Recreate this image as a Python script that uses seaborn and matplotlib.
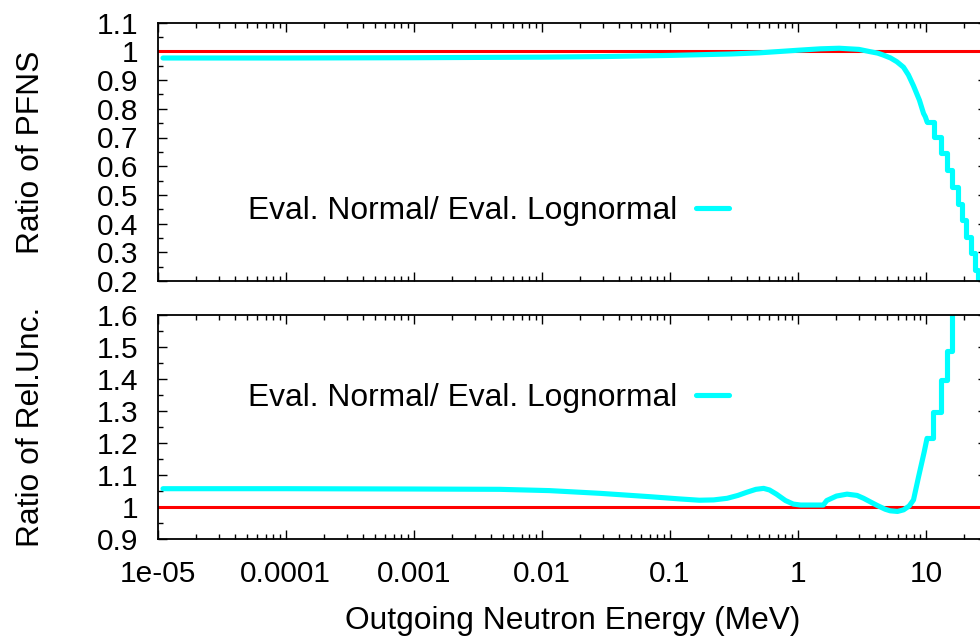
import numpy as np
import pandas as pd
import matplotlib
matplotlib.use("Agg")
import matplotlib.pyplot as plt
import seaborn as sns
from matplotlib.ticker import FuncFormatter, MultipleLocator, LogLocator, NullFormatter

# ---------------- data ----------------
# Top panel: ratio of PFNS (Eval. Normal / Eval. Lognormal), smooth part
e_top = [1.1e-5, 1e-4, 1e-3, 0.01, 0.03, 0.1, 0.3, 0.5, 1.0, 1.5, 2.1, 3.0,
         3.67, 4.2, 4.66, 5.3, 5.93, 6.68, 7.3, 8.0, 8.9, 9.58, 9.9, 10.2]
r_top = [0.977, 0.977, 0.978, 0.980, 0.982, 0.986, 0.991, 0.995, 1.004, 1.009,
         1.011, 1.007, 0.999, 0.994, 0.987, 0.977, 0.964, 0.945, 0.918, 0.880,
         0.83, 0.784, 0.772, 0.755]
# Top panel: histogram (step) part above 10 MeV
e_top_step = [10.2, 11.47, 13.1, 14.6, 16.1, 17.7, 19.1, 20.6, 22.5, 24.3, 25.5]
r_top_step = [0.755, 0.7025, 0.645, 0.586, 0.528, 0.470, 0.412, 0.354, 0.296, 0.238, 0.15]

# Bottom panel: ratio of relative uncertainties, smooth part
e_bot = [1.1e-5, 1e-4, 1e-3, 0.0047, 0.0115, 0.0285, 0.07, 0.12, 0.17, 0.22,
         0.28, 0.34, 0.4, 0.47, 0.54, 0.6, 0.68, 0.8, 0.92, 1.05, 1.25, 1.58,
         1.68, 2.0, 2.42, 2.9, 3.26, 3.8, 4.2, 4.8, 5.26, 6.0, 6.69, 7.4, 8.0,
         8.76, 9.7, 10.2]
r_bot = [1.057, 1.057, 1.056, 1.055, 1.051, 1.0425, 1.032, 1.025, 1.021, 1.022,
         1.027, 1.036, 1.046, 1.055, 1.058, 1.053, 1.040, 1.02, 1.009, 1.006,
         1.006, 1.006, 1.02, 1.034, 1.040, 1.036, 1.027, 1.013, 1.004, 0.993,
         0.988, 0.986, 0.991, 1.003, 1.022, 1.094, 1.172, 1.214]
# Bottom panel: step part above 10 MeV
e_bot_step = [10.2, 11.4, 13.0, 14.7, 16.1]
r_bot_step = [1.214, 1.297, 1.396, 1.488, 1.75]

ref_x = [1e-5, 30.0]
ref_y = [1.0, 1.0]

legend_label = "Eval. Normal/ Eval. Lognormal"
xlabel = "Outgoing Neutron Energy (MeV)"
ylabel_top = "Ratio of PFNS"
ylabel_bot = "Ratio of Rel.Unc."
xticks = [1e-5, 1e-4, 1e-3, 1e-2, 1e-1, 1, 10]

# ---------------- style ----------------
sns.set_theme(style="ticks")
plt.rcParams["font.family"] = ["Liberation Sans", "DejaVu Sans"]
plt.rcParams["text.color"] = "black"
plt.rcParams["axes.labelcolor"] = "black"
plt.rcParams["xtick.color"] = "black"
plt.rcParams["ytick.color"] = "black"

CYAN = "#00FFFF"
RED = "#FF0000"
TICK_FS = 21.5
LABEL_FS = 22.9

fig = plt.figure(figsize=(9.8, 6.37), dpi=100)
W, H = 980.0, 637.0
x_left, x_right = 157.7, 987.0
ax_top = fig.add_axes([x_left / W, (H - 281.0) / H, (x_right - x_left) / W, (281.0 - 22.7) / H])
ax_bot = fig.add_axes([x_left / W, (H - 539.0) / H, (x_right - x_left) / W, (539.0 - 314.7) / H])

fmt = FuncFormatter(lambda v, p: "%g" % v)

def style_axis(ax, ylo, yhi):
    ax.set_xscale("log")
    ax.set_xlim(1e-5, 30)
    ax.set_ylim(ylo, yhi)
    ax.yaxis.set_major_locator(MultipleLocator(0.1))
    ax.yaxis.set_minor_locator(MultipleLocator(0.05))
    ax.yaxis.set_major_formatter(fmt)
    ax.set_xticks(xticks)
    ax.xaxis.set_major_formatter(fmt)
    ax.xaxis.set_minor_locator(LogLocator(base=10, subs=np.arange(2, 10), numticks=20))
    ax.xaxis.set_minor_formatter(NullFormatter())
    ax.tick_params(which="both", direction="in", top=True, right=True, color="black",
                   width=1.0, labelsize=TICK_FS, labelcolor="black")
    ax.tick_params(which="major", length=6.5)
    ax.tick_params(which="minor", length=3.5)
    ax.tick_params(axis="y", which="major", pad=14)
    ax.tick_params(axis="x", which="major", pad=15)
    for s in ax.spines.values():
        s.set_color("black")
        s.set_linewidth(1.3)
    ax.grid(False)

# ---- top panel ----
sns.lineplot(x=ref_x, y=ref_y, ax=ax_top, color=RED, linewidth=2.2, estimator=None, sort=False)
sns.lineplot(x=e_top, y=r_top, ax=ax_top, color=CYAN, linewidth=3.7, estimator=None,
             sort=False, label=legend_label)
sns.lineplot(x=e_top_step, y=r_top_step, ax=ax_top, color=CYAN, linewidth=3.7,
             estimator=None, sort=False, drawstyle="steps-post")
style_axis(ax_top, 0.2, 1.1)
ax_top.tick_params(axis="x", labelbottom=False)
ax_top.set_xlabel("")
ax_top.set_ylabel(ylabel_top, fontsize=LABEL_FS, color="black")
ax_top.yaxis.set_label_coords(-0.135, 0.5)

# ---- bottom panel ----
sns.lineplot(x=ref_x, y=ref_y, ax=ax_bot, color=RED, linewidth=2.2, estimator=None, sort=False)
sns.lineplot(x=e_bot, y=r_bot, ax=ax_bot, color=CYAN, linewidth=3.7, estimator=None,
             sort=False, label=legend_label)
sns.lineplot(x=e_bot_step, y=r_bot_step, ax=ax_bot, color=CYAN, linewidth=3.7,
             estimator=None, sort=False, drawstyle="steps-post")
style_axis(ax_bot, 0.9, 1.6)
ax_bot.set_xlabel(xlabel, fontsize=LABEL_FS, color="black", labelpad=13)
ax_bot.set_ylabel(ylabel_bot, fontsize=LABEL_FS, color="black")
ax_bot.yaxis.set_label_coords(-0.135, 0.5)

for ax, ycen in ((ax_top, (281.0 - 211.0) / (281.0 - 22.7)), (ax_bot, (539.0 - 398.0) / (539.0 - 314.7))):
    leg = ax.legend(loc="center left", bbox_to_anchor=((248.0 - x_left) / (x_right - x_left), ycen),
                    frameon=False, markerfirst=False, fontsize=LABEL_FS, handlelength=1.05,
                    handletextpad=0.58, borderpad=0, borderaxespad=0)
    for t in leg.get_texts():
        t.set_color("black")

fig.savefig("out.png", dpi=100)
